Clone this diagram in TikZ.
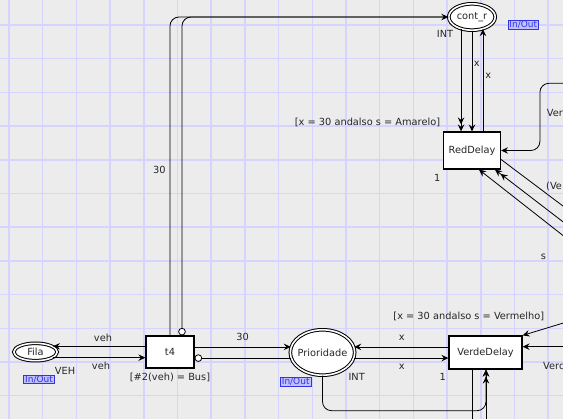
\documentclass[tikz,border=0pt]{standalone}
\usepackage{fontspec}
\setmainfont{DejaVu Sans}
\usepackage{xcolor}
\usepackage{tikz}
\usetikzlibrary{positioning,arrows.meta,shapes.geometric,calc}

\definecolor{canvas}{RGB}{236,236,236}
\definecolor{gridblue}{RGB}{212,212,255}
\definecolor{tagblue}{RGB}{50,50,230}
\definecolor{tagfill}{RGB}{192,192,255}

\begin{document}
\begin{tikzpicture}[
  x=1pt, y=-1pt,
  font=\fontsize{9.8}{11}\selectfont,
  every node/.style={text=black!85},
  placenode/.style={draw, ellipse, double=white, double distance=1.6pt, line width=1pt, fill=white, inner sep=0pt},
  transbox/.style={draw, rectangle, line width=1.2pt, fill=white, inner sep=0pt},
  arcline/.style={draw=black, line width=0.8pt, -{Stealth[length=7pt,width=6.5pt,inset=2.5pt]}},
  arcpair/.style={draw=black, line width=0.8pt, -{Stealth[length=7pt,width=6.5pt,inset=2.5pt] Stealth[length=7pt,width=6.5pt,inset=2.5pt]}},
  inhib/.style={draw=black, line width=0.8pt, -{Circle[length=7.5pt,fill=white]}},
  link/.style={draw=black, line width=0.8pt},
  iotag/.style={draw=tagblue, fill=tagfill, text=tagblue, line width=0.8pt, inner xsep=1.5pt, inner ysep=0.6pt, font=\fontsize{9}{10}\selectfont},
  lbl/.style={inner sep=0pt},
  gridline/.style={draw=gridblue, line width=1.5pt}]
\clip (0,0) rectangle (563,419);
\fill[canvas] (0,0) rectangle (563,419);
\foreach \gx in {0,...,16}
  \draw[gridline] ({9+33.7*\gx},0) -- ({9+33.7*\gx},419);
\foreach \gy in {0,...,11}
  \draw[gridline] (0,{25+33.7*\gy}) -- (563,{25+33.7*\gy});

% places
\node[placenode, minimum width=43.4pt, minimum height=17.4pt, label=center:Fila] (fila) at (35.5,352) {};
\node[placenode, minimum width=64.4pt, minimum height=45.4pt, label=center:Prioridade] (prioridade) at (322.5,352.5) {};
\node[placenode, minimum width=46.4pt, minimum height=26.4pt, label=center:cont\_r] (contr) at (472,17) {};

% transitions
\node[transbox, minimum width=48pt, minimum height=32pt] (tfour) at (170,352) {t4};
\node[transbox, minimum width=73pt, minimum height=33pt] (verdedelay) at (485.5,352.5) {VerdeDelay};
\node[transbox, minimum width=57pt, minimum height=37pt] (reddelay) at (472,150.5) {RedDelay};

% ends outside the view
\coordinate (redfeed) at (570,83.3);
\coordinate (redout) at (570,211.3);
\coordinate (redbackone) at (570,227.2);
\coordinate (redbacktwo) at (570,241);
\coordinate (verdetop) at (570,321);
\coordinate (verdeside) at (570,346.7);
\coordinate (verdefeed) at (486,425);
\coordinate (verdeout) at (472.7,425);

% arcs
\draw[arcline] (tfour.west |- fila.18) -- (fila.18);
\draw[arcline] (fila.-18) -- (tfour.west |- fila.-18);
\draw[arcline] (tfour.east |- prioridade.170) -- (prioridade.170);
\draw[inhib] (prioridade.190) -- (tfour.east |- prioridade.190);
\draw[arcline, rounded corners=9pt] (tfour.north) |- (contr.west);
\draw[inhib, rounded corners=9pt] (contr.west) -| ([xshift=12pt]tfour.north);
\draw[arcpair] (contr.228) -- (contr.228 |- reddelay.north);
\draw[arcline] (contr.south) -- (reddelay.north);
\draw[arcline] (contr.-48 |- reddelay.north) -- (contr.-48);
\draw[arcline, rounded corners=9pt] (redfeed) -| ([xshift=38.8pt]reddelay.east) -- (reddelay.east);
\draw[link] ([yshift=-9pt]reddelay.east) -- (redout);
\draw[arcpair] (redbackone) -- ([xshift=23pt]reddelay.south);
\draw[arcline] (redbacktwo) -- ([xshift=7pt]reddelay.south);
\draw[arcline] (verdedelay.west |- prioridade.10) -- (prioridade.10);
\draw[arcline] (prioridade.-10) -- (verdedelay.west |- prioridade.-10);
\draw[arcline] (verdetop) -- (verdedelay.north east);
\draw[arcline] (verdeside) -- (verdedelay.east |- verdeside);
\draw[arcpair, rounded corners=9pt] (prioridade.south) |- (486,410.7) -- (verdedelay.south -| verdefeed);
\draw[arcline] (verdefeed) -- (verdedelay.south -| verdefeed);
\draw[link] (verdedelay.south -| verdeout) -- (verdeout);

% inscriptions
\node[lbl] (vehback) at (103,337.5) {veh};
\node[lbl] (vehin) at (101,366) {veh};
\node[lbl] (filatype) at (65,371) {VEH};
\node[lbl] (tfourguard) at (170,377) {[\#2(veh) = Bus]};
\node[lbl] (thirtyprio) at (242.7,337.3) {30};
\node[lbl] (thirtycont) at (159.3,170) {30};
\node[lbl] (redguard) at (367.5,122.7) {[x = 30 andalso s = Amarelo]};
\node[lbl] (redtime) at (437.3,177.7) {1};
\node[lbl] (xdown) at (476.7,64.3) {x};
\node[lbl] (xup) at (488.3,76) {x};
\node[lbl] (conttype) at (445,34.3) {INT};
\node[lbl, anchor=west] (redfeedlbl) at (546.7,112.7) {Ver};
\node[lbl, anchor=west] (redoutlbl) at (546,186.7) {(Ve};
\node[lbl] (slbl) at (543.3,257.3) {s};
\node[lbl] (verdeguard) at (468.8,316) {[x = 30 andalso s = Vermelho]};
\node[lbl] (xback) at (401.7,338.3) {x};
\node[lbl] (xin) at (401.7,366.7) {x};
\node[lbl] (priotype) at (356.7,376.7) {INT};
\node[lbl] (verdetime) at (442.7,376.7) {1};
\node[lbl, anchor=west] (verdesidelbl) at (543,366) {Verd};

% port tags
\node[iotag] (filaport) at (39,379.5) {In/Out};
\node[iotag] (prioport) at (295.7,381.7) {In/Out};
\node[iotag] (contport) at (523.3,24.8) {In/Out};
\end{tikzpicture}
\end{document}
